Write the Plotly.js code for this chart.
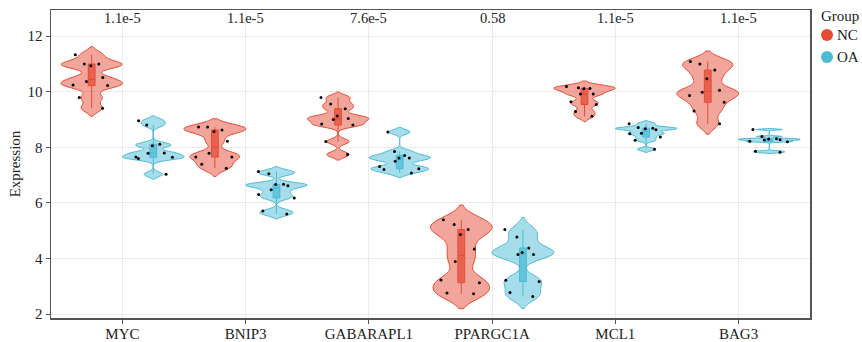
<!DOCTYPE html>
<html><head><meta charset="utf-8">
<script src="https://cdn.plot.ly/plotly-3.0.1.min.js"></script>
<style>html,body{margin:0;padding:0;background:#fff}#chart{width:862px;height:342px}</style>
</head><body><div id="chart"></div>
<script>
const genes = ['MYC','BNIP3','GABARAPL1','PPARGC1A','MCL1','BAG3'];
const pvalues = ['1.1e-5','1.1e-5','7.6e-5','0.58','1.1e-5','1.1e-5'];
const groups = ['NC','OA'];

const ncMYC = [11.33,10.93,11.0,11.0,10.51,10.37,10.22,10.24,9.79,9.41];
const oaMYC = [8.96,8.80,8.11,8.06,7.79,7.80,7.65,7.64,7.60,7.03];
const ncBNIP3 = [8.73,8.57,8.62,8.73,8.22,7.79,7.65,7.65,7.39,7.25];
const oaBNIP3 = [7.13,7.05,6.67,6.66,6.62,6.47,6.30,6.18,5.71,5.60];
const ncGABARAPL1 = [9.79,9.56,9.39,9.13,9.04,9.00,8.84,8.80,8.21,7.74];
const oaGABARAPL1 = [8.55,7.85,7.71,7.62,7.50,7.62,7.31,7.23,7.20,7.08];
const ncPPARGC1A = [5.39,5.22,5.04,4.86,4.34,3.89,3.23,3.13,2.76,2.73];
const oaPPARGC1A = [5.04,4.77,4.38,4.22,4.14,4.14,3.22,3.17,2.78,2.63];
const ncMCL1 = [10.19,10.12,10.11,10.14,9.92,9.92,9.64,9.54,9.29,9.12];
const oaMCL1 = [8.85,8.71,8.67,8.69,8.63,8.51,8.49,8.37,8.25,7.93];
const ncBAG3 = [11.09,11.0,10.78,10.47,10.05,9.98,9.86,9.62,9.31,8.85];
const oaBAG3 = [8.64,8.39,8.31,8.27,8.26,8.22,8.20,8.30,7.86,7.82];

const values = {
  NC: [ncMYC, ncBNIP3, ncGABARAPL1, ncPPARGC1A, ncMCL1, ncBAG3],
  OA: [oaMYC, oaBNIP3, oaGABARAPL1, oaPPARGC1A, oaMCL1, oaBAG3]
};
const colors = {NC: '#E64B35', OA: '#4DBBD5'};
const fills = {NC: 'rgba(230,75,53,0.5)', OA: 'rgba(77,187,213,0.5)'};
const boxFills = {NC: 'rgba(230,75,53,0.75)', OA: 'rgba(77,187,213,0.75)'};

function quant(s, p){ const h=(s.length-1)*p, lo=Math.floor(h); return s[lo]+(h-lo)*((s[lo+1]??s[lo])-s[lo]); }
function bw(arr, f){
  const n=arr.length, m=arr.reduce((a,b)=>a+b,0)/n;
  const sd=Math.sqrt(arr.reduce((a,b)=>a+(b-m)*(b-m),0)/(n-1));
  const s=[...arr].sort((a,b)=>a-b);
  const iqr=quant(s,0.75)-quant(s,0.25);
  let b=0.9*Math.min(sd, iqr/1.349)*Math.pow(n,-0.2);
  if(!(b>0)) b=0.9*sd*Math.pow(n,-0.2);
  return b*f;
}

const FONT = 'Liberation Serif, Times New Roman, serif';
const traces = [];
genes.forEach((g, i) => {
  groups.forEach(grp => {
    const ys = values[grp][i];
    traces.push({
      type: 'violin',
      x: ys.map(() => g),
      y: ys,
      name: grp,
      legendgroup: grp,
      offsetgroup: grp,
      alignmentgroup: 'all',
      scalegroup: grp + '_' + g,
      showlegend: false,
      scalemode: 'width',
      bandwidth: bw(ys, 0.45),
      spanmode: 'soft',
      fillcolor: fills[grp],
      line: {color: colors[grp], width: 1},
      box: {visible: true, width: 0.11, fillcolor: boxFills[grp], line: {color: colors[grp], width: 1}},
      meanline: {visible: false},
      points: 'all',
      pointpos: 0,
      jitter: 0.8,
      marker: {color: '#000', size: 3, line: {width: 0}},
      hoverinfo: 'y'
    });
  });
});

const annotations = genes.map((g, i) => ({
  x: g, y: 12.65, xref: 'x', yref: 'y', text: pvalues[i], showarrow: false,
  font: {family: FONT, size: 14.5, color: '#222'}
}));

// manual legend (paper coords: plot area x 51..810, y 10..318)
const px = v => (v - 51) / 759;
const py = v => (318 - v) / 308;
annotations.push({xref:'paper', yref:'paper', x: px(819), y: py(16), xanchor:'left', yanchor:'middle',
  text:'Group', showarrow:false, font:{family: FONT, size: 15, color:'#222'}});
const shapes = [];
groups.forEach((grp, k) => {
  const cy = 35 + k * 22;
  shapes.push({type:'circle', xref:'paper', yref:'paper', x0: px(821), x1: px(833), y0: py(cy+6), y1: py(cy-6),
    fillcolor: colors[grp], line:{width:0}});
  annotations.push({xref:'paper', yref:'paper', x: px(835), y: py(cy), xanchor:'left', yanchor:'middle',
    text: grp, showarrow:false, font:{family: FONT, size: 15, color:'#222'}});
});

const layout = {
  width: 862, height: 342,
  margin: {l: 51, r: 52, t: 10, b: 24},
  paper_bgcolor: '#fff', plot_bgcolor: '#fff',
  font: {family: FONT, size: 15, color: '#222'},
  violinmode: 'group', violingap: 0, violingroupgap: 0,
  xaxis: {
    type: 'category', categoryorder: 'array', categoryarray: genes,
    range: [-0.58, 5.58],
    showgrid: true, gridcolor: '#EBEBEB', gridwidth: 1,
    showline: true, linecolor: '#555', linewidth: 1.5, mirror: true,
    ticks: 'outside', ticklen: 4, tickcolor: '#555',
    ticklabelstandoff: -3,
    tickfont: {family: FONT, size: 15, color: '#222'},
    zeroline: false, fixedrange: true
  },
  yaxis: {
    range: [1.86, 12.94],
    tickvals: [2,4,6,8,10,12],
    showgrid: true, gridcolor: '#EBEBEB', gridwidth: 1,
    showline: true, linecolor: '#555', linewidth: 1.5, mirror: true,
    ticks: 'outside', ticklen: 4, tickcolor: '#555',
    tickfont: {family: FONT, size: 15, color: '#222'},
    title: {text: 'Expression', font: {family: FONT, size: 15, color: '#222'}, standoff: 3},
    zeroline: false, fixedrange: true
  },
  annotations: annotations,
  shapes: shapes,
  showlegend: false
};

Plotly.newPlot('chart', traces, layout, {displayModeBar: false, staticPlot: true});
</script>
</body></html>
